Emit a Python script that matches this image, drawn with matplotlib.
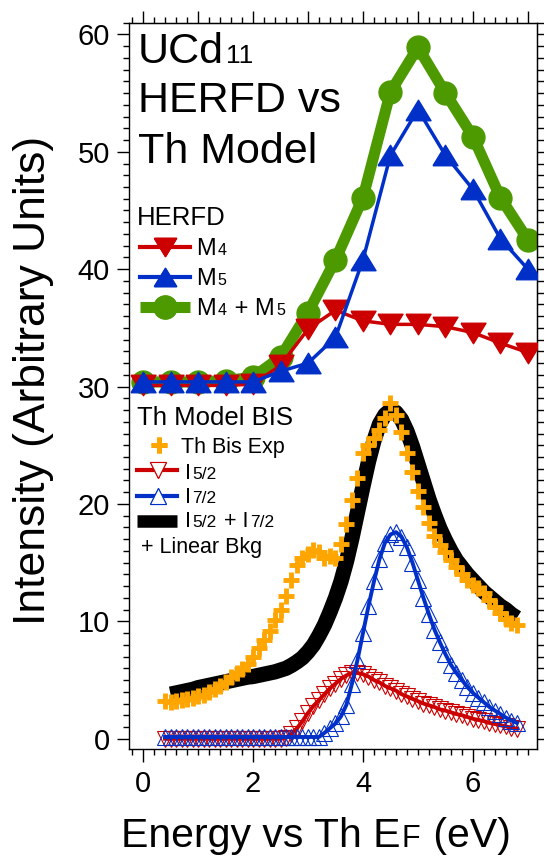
import matplotlib
matplotlib.use('Agg')
import matplotlib.pyplot as plt
from matplotlib.ticker import MultipleLocator
from matplotlib.lines import Line2D
from matplotlib.transforms import offset_copy

plt.rcParams['font.family'] = ['Liberation Sans', 'DejaVu Sans']

# HERFD (0.5 eV steps)
herfd_x = [0.0, 0.5, 1.0, 1.5, 2.0, 2.5, 3.0, 3.5, 4.0, 4.5, 5.0, 5.5, 6.0, 6.5, 7.0]
m4 = [30.1, 30.1, 30.1, 30.1, 30.2, 31.8, 34.9, 36.5, 35.6, 35.3, 35.3, 35.1, 34.6, 33.7, 32.9]
m5 = [30.4, 30.4, 30.4, 30.4, 30.4, 31.3, 32.0, 34.2, 40.8, 49.7, 53.6, 49.7, 46.8, 42.6, 40.0]
m4_m5 = [30.4, 30.4, 30.4, 30.5, 30.8, 32.5, 36.3, 40.8, 46.1, 55.1, 58.9, 55.0, 51.3, 46.1, 42.5]

# Th BIS experiment and model
bis_x = [0.4, 0.5, 0.6, 0.7, 0.8, 0.9, 1.0, 1.1, 1.2, 1.3, 1.4, 1.5, 1.6, 1.7, 1.8, 1.9,
         2.0, 2.1, 2.2, 2.3, 2.4, 2.5, 2.6, 2.7, 2.8, 2.9, 3.0, 3.1, 3.2, 3.3, 3.4, 3.5,
         3.6, 3.7, 3.8, 3.9, 4.0, 4.1, 4.2, 4.3, 4.4, 4.5, 4.6, 4.7, 4.8, 4.9, 5.0, 5.1,
         5.2, 5.3, 5.4, 5.5, 5.6, 5.7, 5.8, 5.9, 6.0, 6.1, 6.2, 6.3, 6.4, 6.5, 6.6, 6.7, 6.8]
th_bis_exp = [3.2, 3.1, 3.2, 3.3, 3.4, 3.5, 3.6, 3.7, 4.0, 4.2, 4.5, 4.8, 5.3, 5.6, 5.9, 6.4,
              7.0, 7.7, 8.4, 9.2, 10.1, 11.0, 12.2, 13.5, 14.8, 15.4, 15.7, 16.1, 15.9, 15.4, 15.6, 15.4,
              16.6, 18.3, 20.3, 22.2, 24.3, 25.0, 25.6, 26.3, 27.3, 28.6, 27.6, 26.1, 24.3, 22.7, 21.1, 19.7,
              18.4, 17.3, 16.5, 15.9, 15.2, 14.6, 14.0, 13.5, 13.1, 12.8, 12.4, 11.8, 11.2, 10.7, 10.2, 9.9, 9.7]
i52 = [0.0, 0.0, 0.0, 0.0, 0.0, 0.0, 0.0, 0.0, 0.0, 0.0, 0.0, 0.0, 0.0, 0.0, 0.0, 0.0,
       0.0, 0.0, 0.0, 0.0, 0.0, 0.0, 0.1, 0.4, 0.9, 1.5, 2.2, 2.8, 3.3, 3.8, 4.3, 4.7,
       5.1, 5.4, 5.6, 5.6, 5.5, 5.3, 5.0, 4.8, 4.5, 4.3, 4.1, 3.8, 3.6, 3.4, 3.2, 3.0,
       2.85, 2.7, 2.5, 2.4, 2.25, 2.1, 2.0, 1.85, 1.7, 1.6, 1.5, 1.35, 1.25, 1.15, 1.05, 0.95, 0.85]
i72 = [0.15, 0.15, 0.15, 0.15, 0.15, 0.15, 0.15, 0.15, 0.15, 0.15, 0.15, 0.15, 0.15, 0.15, 0.15, 0.15,
       0.15, 0.15, 0.15, 0.15, 0.15, 0.15, 0.15, 0.15, 0.15, 0.15, 0.15, 0.15, 0.15, 0.5, 0.9, 1.3,
       1.9, 2.9, 4.7, 6.7, 9.0, 11.3, 13.4, 15.3, 16.7, 17.4, 17.6, 17.2, 16.3, 15.0, 13.5, 12.0,
       10.6, 9.3, 8.2, 7.2, 6.3, 5.6, 5.0, 4.4, 3.9, 3.5, 3.1, 2.7, 2.4, 2.1, 1.8, 1.55, 1.35]
fit_x = bis_x[1:]
fit_total = [3.8, 3.9, 4.0, 4.1, 4.2, 4.35, 4.45, 4.55, 4.65, 4.75, 4.85, 4.95, 5.05, 5.15, 5.25,
             5.3, 5.4, 5.5, 5.6, 5.7, 5.85, 6.0, 6.25, 6.55, 6.9, 7.4, 8.0, 8.8, 9.7, 10.8, 12.0,
             13.4, 15.1, 17.1, 19.3, 21.5, 23.6, 25.4, 26.8, 27.6, 28.0, 27.8, 27.2, 26.2, 24.9, 23.4, 21.9,
             20.4, 19.1, 17.9, 16.9, 16.0, 15.2, 14.6, 14.0, 13.5, 13.0, 12.5, 12.1, 11.7, 11.3, 11.0, 10.6, 10.3]

RED = '#cc0000'
BLUE = '#0030c8'
GREEN = '#4c9a00'
ORANGE = '#ffa500'

# wide (equilateral-ish) triangles like the original
TRI_UP = [(-1, -0.82), (1, -0.82), (0, 0.82), (-1, -0.82)]
TRI_DOWN = [(-1, 0.82), (1, 0.82), (0, -0.82), (-1, 0.82)]

W, H = 544, 859
fig = plt.figure(figsize=(W / 100, H / 100), dpi=100)
ax = fig.add_axes([0.2377, 0.1277, 0.7489, 0.8459])

# HERFD
ax.plot(herfd_x, m4_m5, color=GREEN, lw=8, marker='o', ms=16.5, zorder=2)
ax.plot(herfd_x, m4, color=RED, lw=2.5, marker=TRI_DOWN, ms=18, zorder=3)
ax.plot(herfd_x, m5, color=BLUE, lw=2.5, marker=TRI_UP, ms=18, zorder=4)

# BIS model
ax.plot(fit_x, fit_total, color='black', lw=11, solid_capstyle='butt', zorder=2)
ax.plot(bis_x, i52, color=RED, lw=2.8, marker='v', ms=12, mfc='none', mew=0.8, zorder=3)
ax.plot(bis_x, i72, color=BLUE, lw=2.8, marker='^', ms=12, mfc='none', mew=0.8, zorder=4)
ax.plot(bis_x, th_bis_exp, ls='none', color=ORANGE, marker='+', ms=12, mew=3.5, zorder=5)

ax.set_xlim(-0.25, 7.16)
ax.set_ylim(-0.9, 61.0)
ax.xaxis.set_major_locator(MultipleLocator(2))
ax.xaxis.set_minor_locator(MultipleLocator(0.2))
ax.yaxis.set_major_locator(MultipleLocator(10))
ax.yaxis.set_minor_locator(MultipleLocator(1))
ax.tick_params(which='both', direction='out', width=1, labelsize=21)
ax.tick_params(which='major', length=9)
ax.tick_params(which='minor', length=4.5)
ax.tick_params(axis='x', pad=6)
ax.tick_params(axis='y', pad=5)
for sp in ax.spines.values():
    sp.set_linewidth(1)

top = ax.secondary_xaxis('top')
top.xaxis.set_major_locator(MultipleLocator(1))
top.xaxis.set_minor_locator(MultipleLocator(0.2))
top.tick_params(which='both', direction='out', width=1, labeltop=False)
top.tick_params(which='major', length=9)
top.tick_params(which='minor', length=4.5)
right = ax.secondary_yaxis('right')
right.yaxis.set_major_locator(MultipleLocator(10))
right.yaxis.set_minor_locator(MultipleLocator(1))
right.tick_params(which='both', direction='out', width=1, labelright=False, length=5)

renderer = fig.canvas.get_renderer()


def fx(px):
    return px / W


def fy(py):
    return 1 - py / H


def rich_text(px, py, parts, gap=1.5):
    # pieces of different size set on one baseline, left to right
    dx = 0
    for s, size in parts:
        tr = offset_copy(fig.transFigure, fig=fig, x=dx, y=0, units='dots')
        t = fig.text(fx(px), fy(py), s, fontsize=size, ha='left', va='baseline', transform=tr)
        dx += t.get_window_extent(renderer).width + gap


def handle(px0, px1, py, **kw):
    fig.add_artist(Line2D([fx(px0), fx(px1)], [fy(py), fy(py)], transform=fig.transFigure, **kw))


# title
rich_text(138, 63, [('UCd', 31), ('11', 19)])
rich_text(138, 112, [('HERFD vs', 31)])
rich_text(138, 163, [('Th Model', 31)])

# HERFD legend
rich_text(137, 225, [('HERFD', 18.5)])
handle(140, 190, 246.7, color=RED, lw=3)
handle(165, 165, 246.7, color=RED, marker=TRI_DOWN, ms=16, ls='none')
rich_text(196, 255, [('M', 17), ('4', 11.5)])
handle(140, 190, 276.7, color=BLUE, lw=3)
handle(165, 165, 276.7, color=BLUE, marker=TRI_UP, ms=16, ls='none')
rich_text(196, 285, [('M', 17), ('5', 11.5)])
handle(140, 190, 306.7, color=GREEN, lw=8, solid_capstyle='butt')
handle(165, 165, 306.7, color=GREEN, marker='o', ms=16.5, ls='none')
rich_text(196, 315, [('M', 17), ('4', 11.5), (' + M', 17), ('5', 11.5)])

# BIS legend
rich_text(137, 425, [('Th Model BIS', 18.5)])
handle(159, 159, 445, color=ORANGE, marker='+', ms=11, mew=3.5, ls='none')
rich_text(181, 453, [('Th Bis Exp', 15.5)])
handle(137, 177, 470, color=RED, lw=3)
handle(158, 158, 470, color=RED, marker='v', ms=11, mfc='white', mew=0.8, ls='none')
rich_text(185, 479, [('I', 15.5), ('5/2', 12.5)])
handle(137, 177, 496, color=BLUE, lw=3)
handle(158, 158, 496, color=BLUE, marker='^', ms=11, mfc='white', mew=0.8, ls='none')
rich_text(185, 503, [('I', 15.5), ('7/2', 12.5)])
handle(137, 177, 521, color='black', lw=9, solid_capstyle='butt')
rich_text(185, 527, [('I', 15.5), ('5/2', 12.5), (' + I', 15.5), ('7/2', 12.5)])
rich_text(141, 553, [('+ Linear Bkg', 15.5)])

# axis labels
rich_text(121, 847, [('Energy vs Th E', 29.5), ('F', 22), (' (eV)', 29.5)])
fig.text(fx(45), fy(380), 'Intensity (Arbitrary Units)', fontsize=32, rotation=90,
         rotation_mode='anchor', ha='center', va='baseline')

fig.savefig('out.png', dpi=100)
